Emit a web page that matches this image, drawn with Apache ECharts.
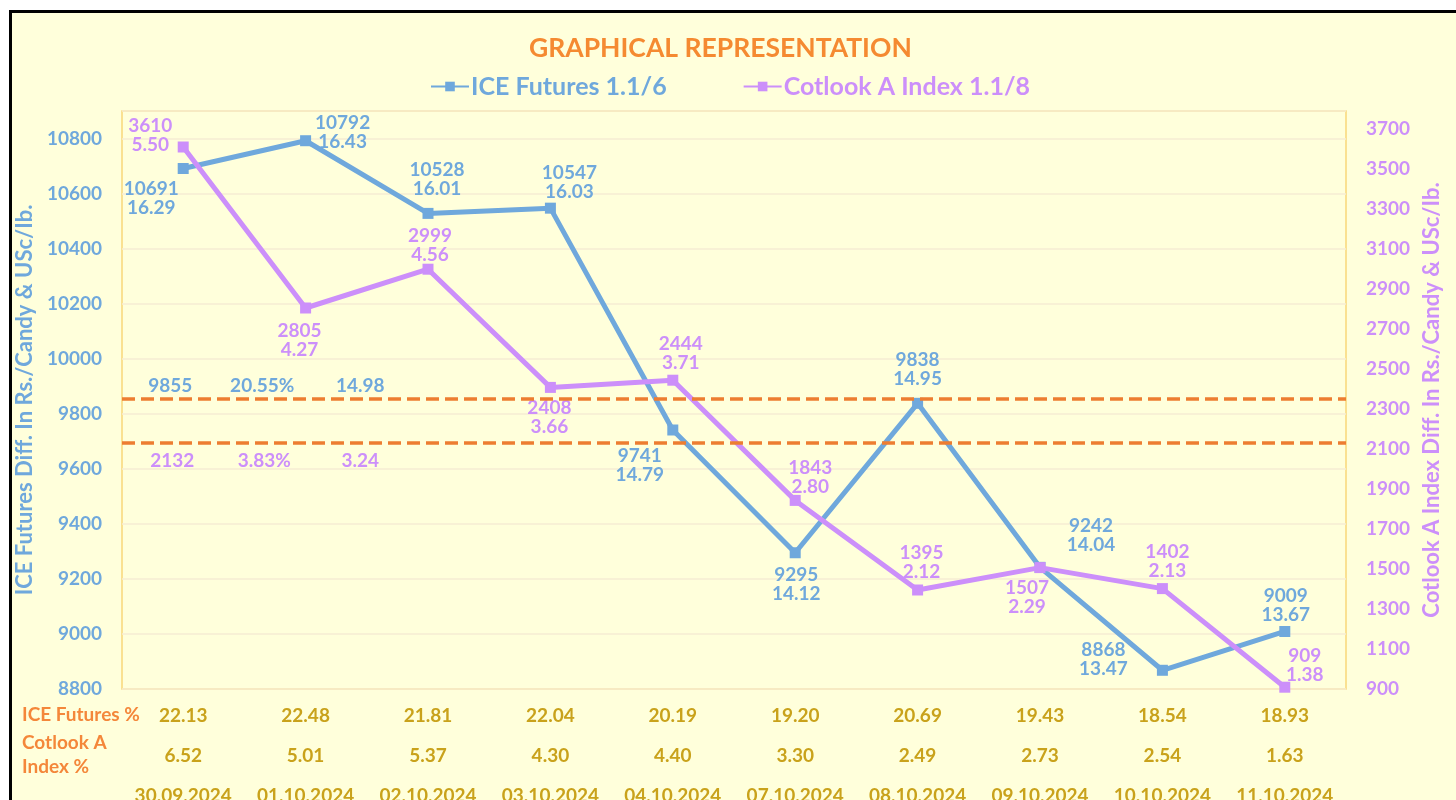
<!DOCTYPE html>
<html>
<head>
    <meta charset="utf-8">
    <title>Graphical Representation</title>
    <script src="https://cdn.jsdelivr.net/npm/echarts@6/dist/echarts.min.js"></script>
    <style>
        body { margin: 0; background: #ffffff; overflow: hidden; }
        #frame { position: absolute; left: 9px; top: 10px; width: 1460px; height: 800px;
                 border-left: 3px solid #000; border-top: 3px solid #000; background: #FFFFDB; }
        #main { position: absolute; left: 0; top: 0; width: 1456px; height: 800px; }
    </style>
</head>
<body>
<div id="frame"></div>
<div id="main"></div>
<script>
    // data
    var dates = ['30.09.2024', '01.10.2024', '02.10.2024', '03.10.2024', '04.10.2024',
                 '07.10.2024', '08.10.2024', '09.10.2024', '10.10.2024', '11.10.2024'];
    var iceValues = [10691, 10792, 10528, 10547, 9741, 9295, 9838, 9242, 8868, 9009];
    var iceUsc = ['16.29', '16.43', '16.01', '16.03', '14.79', '14.12', '14.95', '14.04', '13.47', '13.67'];
    var cotValues = [3610, 2805, 2999, 2408, 2444, 1843, 1395, 1507, 1402, 909];
    var cotUsc = ['5.50', '4.27', '4.56', '3.66', '3.71', '2.80', '2.12', '2.29', '2.13', '1.38'];
    var icePct = ['22.13', '22.48', '21.81', '22.04', '20.19', '19.20', '20.69', '19.43', '18.54', '18.93'];
    var cotPct = ['6.52', '5.01', '5.37', '4.30', '4.40', '3.30', '2.49', '2.73', '2.54', '1.63'];
    var iceAvg = 9855, iceAvgPct = '20.55%', iceAvgUsc = '14.98';
    var cotAvg = 2132, cotAvgPct = '3.83%', cotAvgUsc = '3.24';

    var blue = '#6FA8DC', purple = '#CC8FFA', orange = '#ED7D31', gold = '#C9A21B';
    var font = 'Lato';

    // label offsets (label centre relative to the marker)
    var iceLabelOffset = [[-32, 30], [37, -8], [9, -34], [19, -26], [-33, 35],
                          [1, 32], [0, -34], [51, -32], [-59, -11], [1, -26]];
    var cotLabelOffset = [[-33, -12], [-6, 32], [2, -24], [-1, 30], [8, -27],
                          [15, -23], [4, -28], [-13, 30], [5, -27], [20, -22]];

    function pointData(values, offsets) {
        return values.map(function (v, i) {
            return { value: v, label: { offset: offsets[i] } };
        });
    }

    function avgPoint(idx, value, text, dx, dy, color) {
        return {
            coord: [idx, value], symbolSize: 0,
            label: { show: true, formatter: text, offset: [dx, dy], color: color,
                     fontFamily: font, fontWeight: 'bold', fontSize: 19 }
        };
    }

    var myChart = echarts.init(document.getElementById('main'));
    var option = {
        backgroundColor: 'transparent',
        title: {
            text: 'GRAPHICAL REPRESENTATION',
            left: 524, top: 30,
            textStyle: { color: '#F58A31', fontFamily: font, fontWeight: 'bold', fontSize: 26.5 }
        },
        legend: {
            top: 69, left: 425, itemGap: 76, itemWidth: 38, itemHeight: 12,
            data: [
                { name: 'ICE Futures 1.1/6', textStyle: { color: blue } },
                { name: 'Cotlook A Index 1.1/8', textStyle: { color: purple } }
            ],
            textStyle: { fontFamily: font, fontWeight: 'bold', fontSize: 25, padding: [0, 0, 0, -3] }
        },
        grid: {
            left: 122, right: 110, top: 111, bottom: 111,
            outerBoundsMode: 'none',
            show: true, borderColor: '#F9D77A', borderWidth: 1.5, backgroundColor: '#FFFFDB'
        },
        xAxis: {
            type: 'category', data: dates, boundaryGap: true,
            axisLine: { show: false }, axisTick: { show: false },
            axisLabel: {
                margin: 7, interval: 0,
                formatter: function (v, i) {
                    return '{a|' + icePct[i] + '}\n{a|' + cotPct[i] + '}\n{a|' + v + '}';
                },
                rich: { a: { color: gold, fontFamily: font, fontWeight: 'bold', fontSize: 19, lineHeight: 40 } }
            }
        },
        yAxis: [{
            type: 'value', min: 8800, max: 10900, interval: 200,
            name: 'ICE Futures Diff. In Rs./Candy & USc/Ib.',
            nameLocation: 'middle', nameGap: 70, nameRotate: 90,
            nameTextStyle: { color: blue, fontFamily: font, fontWeight: 'bold', fontSize: 22 },
            axisLine: { show: false }, axisTick: { show: false },
            axisLabel: { showMaxLabel: false, margin: 20, color: blue, fontFamily: font, fontWeight: 'bold', fontSize: 19,
                         formatter: function (v) { return String(v); } },
            splitLine: { lineStyle: { color: '#F6EDD3', width: 1.5 } }
        }, {
            type: 'value', min: 900, max: 3790, interval: 200,
            name: 'Cotlook A Index Diff. In Rs./Candy & USc/Ib.',
            nameLocation: 'middle', nameGap: 74, nameRotate: 90,
            nameTextStyle: { color: purple, fontFamily: font, fontWeight: 'bold', fontSize: 22 },
            axisLine: { show: false }, axisTick: { show: false },
            axisLabel: { showMaxLabel: false, margin: 20, color: purple, fontFamily: font, fontWeight: 'bold', fontSize: 19,
                         formatter: function (v) { return String(v); } },
            splitLine: { show: false }
        }],
        graphic: [
            { type: 'text', left: 22, top: 705,
              style: { text: 'ICE Futures %', fill: '#F4873A', font: 'bold 19px Lato' } },
            { type: 'text', left: 22, top: 731,
              style: { text: 'Cotlook A\nIndex %', fill: '#F4873A', font: 'bold 19px Lato', lineHeight: 24 } }
        ],
        series: [{
            name: 'ICE Futures 1.1/6', type: 'line', yAxisIndex: 0,
            data: pointData(iceValues, iceLabelOffset),
            symbol: 'rect', symbolSize: 11, color: blue,
            lineStyle: { width: 5, color: blue },
            label: {
                show: true, position: 'inside', align: 'center', verticalAlign: 'middle',
                color: blue, fontFamily: font, fontWeight: 'bold', fontSize: 19, lineHeight: 19,
                formatter: function (p) { return iceValues[p.dataIndex] + '\n' + iceUsc[p.dataIndex]; }
            },
            markLine: {
                silent: true, symbol: 'none', label: { show: false },
                lineStyle: { color: orange, type: [13, 6], width: 3.5 },
                data: [{ yAxis: iceAvg }]
            },
            markPoint: {
                symbol: 'circle', symbolSize: 0,
                data: [
                    avgPoint(0, iceAvg, String(iceAvg), -13, -13, blue),
                    avgPoint(0, iceAvg, iceAvgPct, 79, -13, blue),
                    avgPoint(0, iceAvg, iceAvgUsc, 177, -13, blue)
                ]
            },
            z: 3
        }, {
            name: 'Cotlook A Index 1.1/8', type: 'line', yAxisIndex: 1,
            data: pointData(cotValues, cotLabelOffset),
            symbol: 'rect', symbolSize: 11, color: purple,
            lineStyle: { width: 5, color: purple },
            label: {
                show: true, position: 'inside', align: 'center', verticalAlign: 'middle',
                color: purple, fontFamily: font, fontWeight: 'bold', fontSize: 19, lineHeight: 19,
                formatter: function (p) { return cotValues[p.dataIndex] + '\n' + cotUsc[p.dataIndex]; }
            },
            markLine: {
                silent: true, symbol: 'none', label: { show: false },
                lineStyle: { color: orange, type: [13, 6], width: 3.5 },
                data: [{ yAxis: cotAvg }]
            },
            markPoint: {
                symbol: 'circle', symbolSize: 0,
                data: [
                    avgPoint(0, cotAvg, String(cotAvg), -11, 18, purple),
                    avgPoint(0, cotAvg, cotAvgPct, 81, 18, purple),
                    avgPoint(0, cotAvg, cotAvgUsc, 177, 18, purple)
                ]
            },
            z: 4
        }]
    };
    myChart.setOption(option);
</script>
</body>
</html>
